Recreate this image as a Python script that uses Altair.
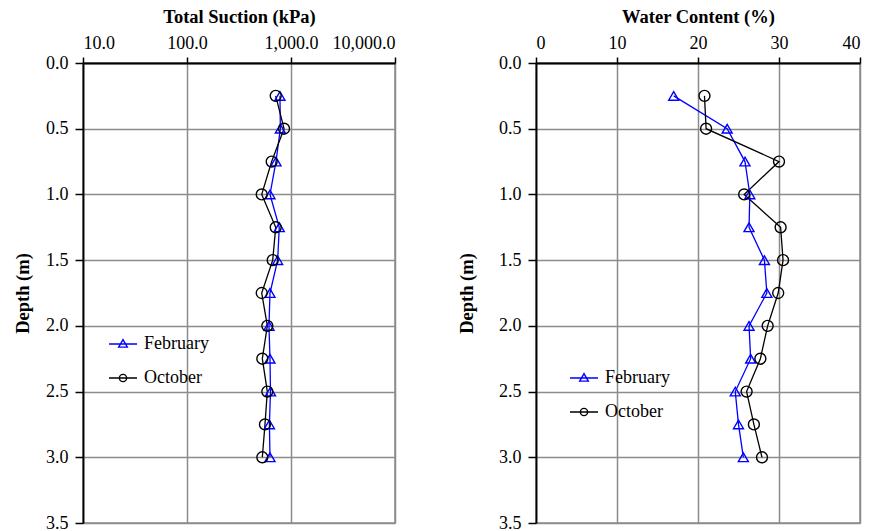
import altair as alt
import pandas as pd

depth = [0.25, 0.5, 0.75, 1.0, 1.25, 1.5, 1.75, 2.0, 2.25, 2.5, 2.75, 3.0]
months = ["February", "October"]
suction_feb = [783, 790, 717, 628, 771, 744, 628, 614, 628, 635, 620, 628]
suction_oct = [713, 857, 652, 523, 713, 667, 523, 592, 530, 592, 562, 530]
wc_feb = [17.0, 23.6, 25.8, 26.4, 26.3, 28.2, 28.5, 26.3, 26.5, 24.6, 25.0, 25.6]
wc_oct = [20.8, 21.0, 30.0, 25.7, 30.2, 30.5, 29.9, 28.6, 27.7, 26.0, 26.9, 27.9]
suction_ticks = [10, 100, 1000, 10000]
wc_ticks = [0, 10, 20, 30, 40]
depth_ticks = [0, 0.5, 1.0, 1.5, 2.0, 2.5, 3.0, 3.5]
series_colors = ["#0000FF", "#000000"]
series_shapes = ["triangle-up", "circle"]

FONT = "Liberation Serif"


def make_df(feb, octo):
    return pd.DataFrame({
        "Depth": depth * 2,
        "Value": feb + octo,
        "Month": [months[0]] * len(depth) + [months[1]] * len(depth),
        "Order": list(range(len(depth))) * 2,
    })


suction_df = make_df(suction_feb, suction_oct)
wc_df = make_df(wc_feb, wc_oct)

color_scale = alt.Scale(domain=months, range=series_colors)

tri_path = "M-2,0L2,0M0,-0.62L0.62,0.45L-0.62,0.45Z"
circ_path = "M-2,0L2,0M0.52,0A0.52,0.52,0,1,1,-0.52,0A0.52,0.52,0,1,1,0.52,0"
legend_shape_scale = alt.Scale(domain=months, range=[tri_path, circ_path])


def legend_for(x, y):
    return alt.Legend(
        title=None, orient="none", legendX=x, legendY=y, padding=0,
        labelFont=FONT, labelFontSize=18, labelColor="#000000",
        labelOffset=12, rowPadding=16, symbolSize=196,
        symbolStrokeWidth=1.4, symbolFillColor="transparent",
    )


def y_enc(title_pad):
    return alt.Y(
        "Depth:Q",
        scale=alt.Scale(domain=[0, 3.5], reverse=True, nice=False, zero=False),
        axis=alt.Axis(title="Depth (m)", values=depth_ticks, format=".1f",
                      tickSize=8, labelPadding=7, titlePadding=title_pad),
    )


def panel(df, x_enc, yenc, lx, ly, w):
    base = alt.Chart(df)
    layers = []
    for m, c in zip(months, series_colors):
        sub = base.transform_filter(alt.datum.Month == m)
        layers.append(sub.mark_line(strokeWidth=1.3, color=c).encode(
            x=x_enc, y=yenc, order="Order:Q"))
    for m, c, s, sz in zip(months, series_colors, series_shapes, [100, 120]):
        sub = base.transform_filter(alt.datum.Month == m)
        layers.append(sub.mark_point(
            shape=s, filled=False, size=sz, strokeWidth=1.4, opacity=1, color=c
        ).encode(x=x_enc, y=yenc))
    leg = base.transform_filter("datum.Depth > 99").mark_point(
        filled=False, size=196, strokeWidth=1.4, opacity=1
    ).encode(
        x=x_enc, y=yenc,
        color=alt.Color("Month:N", scale=color_scale, legend=legend_for(lx, ly)),
        shape=alt.Shape("Month:N", scale=legend_shape_scale, legend=legend_for(lx, ly)),
    )
    layers.append(leg)
    return alt.layer(*layers).properties(width=w, height=460)


x_suction = alt.X(
    "Value:Q",
    scale=alt.Scale(type="log", domain=[10, 10000], nice=False),
    axis=alt.Axis(title="Total Suction (kPa)", orient="top", values=suction_ticks, format=",.1f"),
)
x_wc = alt.X(
    "Value:Q",
    scale=alt.Scale(domain=[0, 40], nice=False),
    axis=alt.Axis(title="Water Content (%)", orient="top", values=wc_ticks, format="d"),
)

left = panel(suction_df, x_suction, y_enc(13), 31, 272, 312)
right = panel(wc_df, x_wc, y_enc(22), 39, 306, 324)

chart = alt.hconcat(left, right, spacing=59).resolve_scale(
    color="independent", shape="independent", x="independent", y="independent"
).resolve_legend(color="independent", shape="independent").properties(
    padding={"left": 12, "top": 6, "right": 5, "bottom": 5},
    background="white",
).configure_view(
    stroke="#8c8c8c", strokeWidth=1.5
).configure_axis(
    labelFont=FONT, labelFontSize=18, labelColor="#000000",
    titleFont=FONT, titleFontSize=18.5, titleFontWeight="bold", titleColor="#000000",
    gridColor="#8c8c8c", gridWidth=1.5, gridOpacity=1,
    domainColor="#000000", domainWidth=1.8,
    tickColor="#000000", tickWidth=1.5, tickSize=6,
    labelPadding=5, titlePadding=8,
).configure_axisX(labelAngle=0)

chart.save("out.html", embed_options={"renderer": "svg", "actions": False})
